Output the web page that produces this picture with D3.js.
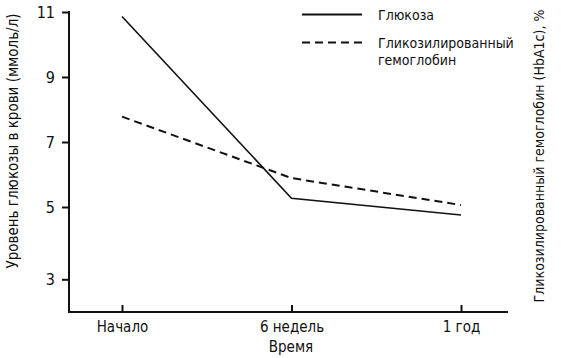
<!DOCTYPE html>
<html><head><meta charset="utf-8">
<script src="https://cdn.jsdelivr.net/npm/d3@7"></script>
<style>
body{margin:0;background:#fff;}
text{font-family:"Liberation Sans Narrow","Arial Narrow","DejaVu Sans Condensed","Liberation Sans",sans-serif;fill:#111;}
</style></head>
<body><svg id="c" width="561" height="358"></svg>
<script>
const categories = ["Начало", "6 недель", "1 год"];
const glucose = [10.86, 5.27, 4.78];
const hba1c = [7.78, 5.89, 5.06];
const yTickValues = [3, 5, 7, 9, 11];
const seriesNames = ["Глюкоза", "Гликозилированный|гемоглобин"];
const yTitle = "Уровень глюкозы в крови (ммоль/л)";
const y2Title = "Гликозилированный гемоглобин (HbA1c), %";
const xTitle = "Время";

const svg = d3.select("#c");
const axisLeftX = 69, axisBottomY = 312, axisRightX = 508;

const x = d3.scalePoint().domain(categories).range([122, 461]);
const y = d3.scaleLinear().domain([3, 5, 11]).range([279.3, 207, 12]);

// X axis
const gx = svg.append("g").attr("transform", `translate(0,${axisBottomY})`)
  .call(d3.axisBottom(x).tickSize(-7).tickPadding(14));
gx.select(".domain").attr("d", `M${axisLeftX},0H${axisRightX}`).attr("stroke", "#111").attr("stroke-width", 2);
gx.selectAll(".tick line").attr("stroke", "#111").attr("stroke-width", 2);
gx.selectAll(".tick text").attr("font-size", 15).attr("fill", "#111").attr("dy", "0.71em").attr("y", 9);

// Y axis
const gy = svg.append("g").attr("transform", `translate(${axisLeftX},0)`)
  .call(d3.axisLeft(y).tickValues(yTickValues).tickSize(7).tickPadding(7).tickFormat(d3.format("d")));
gy.select(".domain").attr("d", `M0,${y(11) - 1}V${axisBottomY + 1}`).attr("stroke", "#111").attr("stroke-width", 2);
gy.selectAll(".tick line").attr("stroke", "#111").attr("stroke-width", 2);
gy.selectAll(".tick text").attr("font-size", 16).attr("fill", "#111");

// Lines
const line = d3.line().x((d, i) => x(categories[i])).y(d => y(d));
svg.append("path").datum(hba1c).attr("d", line).attr("fill", "none")
  .attr("stroke", "#111").attr("stroke-width", 2).attr("stroke-dasharray", "8,5");
svg.append("path").datum(glucose).attr("d", line).attr("fill", "none")
  .attr("stroke", "#111").attr("stroke-width", 1.6);

// Legend
const lg = svg.append("g");
lg.append("line").attr("x1", 302).attr("x2", 362).attr("y1", 14.5).attr("y2", 14.5)
  .attr("stroke", "#111").attr("stroke-width", 2);
lg.append("text").attr("x", 378).attr("y", 19.5).attr("font-size", 14).text(seriesNames[0]);
lg.append("line").attr("x1", 302).attr("x2", 362).attr("y1", 42.5).attr("y2", 42.5)
  .attr("stroke", "#111").attr("stroke-width", 2).attr("stroke-dasharray", "8,5");
const t2 = lg.append("text").attr("x", 378).attr("y", 48).attr("font-size", 14);
seriesNames[1].split("|").forEach((s, i) => {
  t2.append("tspan").attr("x", 378).attr("dy", i ? 17 : 0).text(s);
});

// Titles
svg.append("text").attr("x", 291).attr("y", 352).attr("text-anchor", "middle").attr("font-size", 15).text(xTitle);
svg.append("text").attr("transform", "translate(18,141) rotate(-90)").attr("text-anchor", "middle")
  .attr("font-size", 15).text(yTitle);
svg.append("text").attr("transform", "translate(544,156) rotate(-90)").attr("text-anchor", "middle")
  .attr("font-size", 14).text(y2Title);
</script></body></html>
